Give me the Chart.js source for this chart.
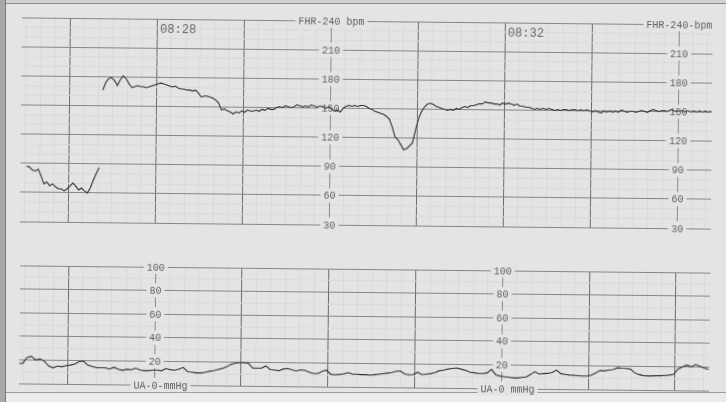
<!DOCTYPE html>
<html><head><meta charset="utf-8">
<script src="https://cdn.jsdelivr.net/npm/chart.js@4.4.1/dist/chart.umd.min.js"></script>
<style>
html,body{margin:0;padding:0;width:726px;height:402px;overflow:hidden;background:#e4e4e4;}
#edgeT{position:absolute;left:0;top:0;width:726px;height:3px;background:#d2d2d2;border-bottom:1px solid #8c8c8c;}
#edgeL{position:absolute;left:0;top:0;width:5px;height:402px;background:#a8a8a8;border-right:1px solid #7c7c7c;}
#edgeB{position:absolute;left:0;top:392px;width:726px;height:10px;background:#ebebeb;border-top:1px solid #9a9a9a;}
.wrap{position:absolute;left:0;top:0;width:726px;height:402px;transform:rotate(0.6deg);transform-origin:363px 201px;}
.wrap canvas{position:absolute;left:0;top:0;}
</style></head><body>
<div id="edgeT"></div><div id="edgeB"></div><div id="edgeL"></div>
<div class="wrap">
<canvas id="fhr" width="726" height="402"></canvas>
<canvas id="ua" width="726" height="402"></canvas>
</div>
<script>
// ---- data (time in seconds relative to 08:28:00) ----
const fhrEarlyStart = -89, fhrMainStart = -37, fhrStep = 2;
const fhrEarly = [87,86,83,82,84,77,69,71,67,69,66,64,64,62,64,67,70,67,63,65,62,60,65,73,80,86];
const fhrMain = [166,174,178,179,176,171,177,181,178,173,169,170,171,170,170,
169,170,171,172,173,174,173,172,171,170,171,169,168,168,167,167,166,167,164,160,161,161,160,159,157,154,147,148,146,
145,143,145,144,146,145,147,146,146,147,146,148,147,149,148,148,150,151,150,152,151,150,151,153,152,151,152,151,153,
152,151,152,151,150,151,149,147,148,146,150,152,153,152,153,152,153,153,152,150,149,147,146,145,144,142,139,131,121,
118,113,108,109,112,115,128,140,147,152,155,156,155,153,152,151,150,149,150,149,151,150,152,153,152,154,154,155,156,
156,158,157,157,156,156,155,157,156,157,156,155,156,154,154,153,153,152,151,152,151,152,151,152,151,150,151,150,151,
151,150,151,151,150,151,150,151,150,149,150,149,148,150,149,150,149,150,149,151,150,149,150,150,149,150,151,150,149,
151,152,151,150,151,151,150,152,151,150,151,151,150,151,150,151,150,151,150,151,150,151];
const uaStart = -94, uaStep = 3;
const uaValues = [17,17,22,23,20,21,19,15,13.5,15,14.5,15.5,16,17,19,19.5,16,15,14,14,14,13,14.5,13,12,
13,12.5,14,12.5,12,12,12.5,12.5,12,14,13,12.5,13.5,15,11.5,11,10.5,10.5,11,12,12.5,13.5,14.5,16,18,19,19.5,19.5,19,15,15,15,17,14,13.5,13,
14.5,15,14,13,14,13.5,12,11,11,13,14,10.5,10.2,10.5,11,12,10.8,10.8,10.5,10.5,10.2,10.5,11,11.5,12,12.5,13.5,14,11.5,10.8,11,13,11,11.5,12,13,
14.5,15,16,16.5,17,16,15,13.5,13,12.5,12.5,13,16,11.5,10.5,10,9.5,9,9,9.5,10,12,14.5,12.5,13,13.2,14,16,13,12.5,12,11.8,11.5,11.2,11.2,12,
14,16,15.8,16.5,17,18.5,18.2,18,17.5,14.5,13,12.2,12,12,12.2,12.2,12.5,12.8,13.5,18,20,21.5,20,22,20.5,19,18];

// ---- axes / labels ----
const timeMin = -93.4, timeMax = 383.5;
const fhrMin = 30, fhrMax = 240;
const uaMin = 0, uaMax = 100;
const fhrLabelValues = [240,210,180,150,120,90,60,30];
const fhrLabelsLeft  = ['FHR-240 bpm','210','180','150','120','90','60','30'];
const fhrLabelsRight = ['FHR-240-bpm','210','180','150','120','90','60','30'];
const uaLabelValues = [100,80,60,40,20,0];
const uaLabelsLeft  = ['100','80','60','40','20','UA-0-mmHg'];
const uaLabelsRight = ['100','80','60','40','20','UA-0 mmHg'];
const fhrColumns = [120, 360];
const uaColumns = [0, 240];
const timeTicks = [0, 240];
const timeTexts = ['08:28', '08:32'];

const PAPER = '#e4e4e4';
const toPts = (arr, start, step) => arr.map((v, i) => ({x: start + i * step, y: v}));

const labelPlugin = {
  id: 'ctgLabels',
  beforeDatasetsDraw(chart, args, o) {
    const {ctx, chartArea: a, scales: {x, y}} = chart;
    ctx.save();
    o.columns.forEach((t, ci) => {
      const px = Math.round(x.getPixelForValue(t)) + 0.5;
      ctx.strokeStyle = '#8a8a8a'; ctx.lineWidth = 1;
      ctx.beginPath(); ctx.moveTo(px, a.top); ctx.lineTo(px, a.bottom); ctx.stroke();
      ctx.font = '10px "Liberation Mono", monospace';
      ctx.textBaseline = 'alphabetic';
      o.values.forEach((v, i) => {
        const text = o.labels[ci][i];
        const py = y.getPixelForValue(v);
        const m = text.match(/\d+/);
        const pre = ctx.measureText(text.slice(0, m.index)).width;
        const num = ctx.measureText(m[0]).width;
        const w = ctx.measureText(text).width;
        const left = px - pre - num / 2;
        ctx.fillStyle = PAPER;
        ctx.fillRect(left - 3, py - 7, w + 6, 14);
        ctx.fillStyle = '#5e5e5e';
        ctx.fillText(text, left, py + 3.5);
      });
    });
    if (o.times) {
      ctx.font = '12px "Liberation Mono", monospace';
      ctx.fillStyle = '#666';
      o.times.forEach((t, i) => {
        ctx.fillText(o.timeTexts[i], x.getPixelForValue(t) + 3, a.top + 13.5);
      });
    }
    ctx.restore();
  }
};

function xScale(columns) {
  return {
    type: 'linear', min: timeMin, max: timeMax, display: true,
    ticks: {display: false}, border: {display: false},
    afterBuildTicks: ax => { const t = []; for (let v = -90; v <= 380; v += 10) t.push({value: v}); ax.ticks = t; },
    grid: {drawTicks: false, lineWidth: 1,
      color: c => {
        const v = c.tick.value;
        if (v % 60 === 0) return columns.includes(v) ? 'rgba(0,0,0,0)' : '#6c6c6c';
        return '#dadada';
      }}
  };
}
function yScale(min, max, minor, major) {
  return {
    type: 'linear', min: min, max: max, display: true,
    ticks: {display: false}, border: {display: false},
    afterBuildTicks: ax => { const t = []; for (let v = min; v <= max; v += minor) t.push({value: v}); ax.ticks = t; },
    grid: {drawTicks: false, lineWidth: 1,
      color: c => (c.tick.value % major === 0 ? '#868686' : '#dadada')}
  };
}
const lineStyle = {borderColor: '#303030', borderWidth: 1.1, pointRadius: 0, tension: 0, fill: false};

new Chart(document.getElementById('fhr'), {
  type: 'line',
  data: {datasets: [
    Object.assign({label: 'FHR early', data: toPts(fhrEarly, fhrEarlyStart, fhrStep)}, lineStyle),
    Object.assign({label: 'FHR', data: toPts(fhrMain, fhrMainStart, fhrStep)}, lineStyle)
  ]},
  options: {
    responsive: false, animation: false, events: [],
    layout: {padding: {left: 20, right: 15, top: 21, bottom: 177}},
    plugins: {legend: {display: false}, tooltip: {enabled: false},
      ctgLabels: {columns: fhrColumns, values: fhrLabelValues, labels: [fhrLabelsLeft, fhrLabelsRight], times: timeTicks, timeTexts: timeTexts}},
    scales: {x: xScale(fhrColumns), y: yScale(fhrMin, fhrMax, 10, 30)}
  },
  plugins: [labelPlugin]
});

new Chart(document.getElementById('ua'), {
  type: 'line',
  data: {datasets: [
    Object.assign({label: 'UA', data: toPts(uaValues, uaStart, uaStep)}, lineStyle)
  ]},
  options: {
    responsive: false, animation: false, events: [],
    layout: {padding: {left: 21, right: 15, top: 269, bottom: 15}},
    plugins: {legend: {display: false}, tooltip: {enabled: false},
      ctgLabels: {columns: uaColumns, values: uaLabelValues, labels: [uaLabelsLeft, uaLabelsRight]}},
    scales: {x: xScale(uaColumns), y: yScale(uaMin, uaMax, 10, 20)}
  },
  plugins: [labelPlugin]
});
</script>
</body></html>
